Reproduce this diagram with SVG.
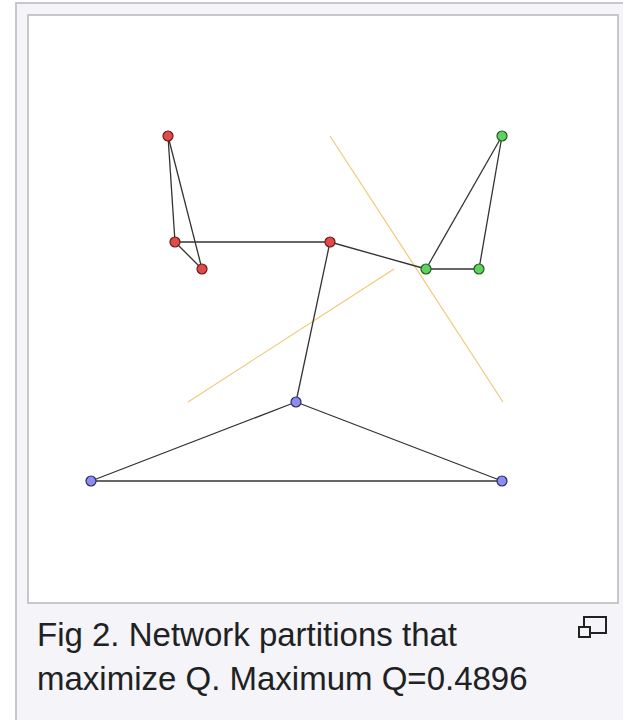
<svg xmlns="http://www.w3.org/2000/svg" width="623" height="720" viewBox="0 0 623 720">
<style>
.frame{fill:#f4f4f9;stroke:#c8c8cc;stroke-width:2}
.inner{fill:#ffffff;stroke:#c8c8cc;stroke-width:2}
.edge{stroke:#333;stroke-width:1.3;fill:none}
.cut{stroke:#f0c87a;stroke-width:1.2;fill:none}
.n{stroke-width:1.2}
.red{fill:#e04a4a;stroke:#6a1a1a}
.green{fill:#5fd25f;stroke:#1f5a1f}
.blue{fill:#8d8df0;stroke:#2a2a6a}
.cap{font-family:"Liberation Sans",Arial,sans-serif;font-size:33px;fill:#202122}
</style>
<rect class="frame" x="16" y="3" width="620" height="730"/>
<rect class="inner" x="28" y="15" width="590" height="588"/>
<g id="partition-lines">
<line class="cut" x1="330" y1="136" x2="503" y2="402"/>
<line class="cut" x1="188" y1="402" x2="394" y2="269"/>
</g>
<g id="connectors">
<line class="edge" x1="168" y1="136" x2="175" y2="242"/>
<line class="edge" x1="168" y1="136" x2="202" y2="269"/>
<line class="edge" x1="175" y1="242" x2="202" y2="269"/>
<line class="edge" x1="175" y1="242" x2="330" y2="242"/>
<line class="edge" x1="330" y1="242" x2="426" y2="269"/>
<line class="edge" x1="330" y1="242" x2="296" y2="402"/>
<line class="edge" x1="426" y1="269" x2="502" y2="136"/>
<line class="edge" x1="502" y1="136" x2="479" y2="269"/>
<line class="edge" x1="426" y1="269" x2="479" y2="269"/>
<line class="edge" x1="296" y1="402" x2="91" y2="481"/>
<line class="edge" x1="296" y1="402" x2="502" y2="481"/>
<line class="edge" x1="91" y1="481" x2="502" y2="481"/>
</g>
<g id="r1"><circle class="n red" cx="168" cy="136" r="5"/></g>
<g id="r2"><circle class="n red" cx="175" cy="242" r="5"/></g>
<g id="r3"><circle class="n red" cx="202" cy="269" r="5"/></g>
<g id="r4"><circle class="n red" cx="330" cy="242" r="5"/></g>
<g id="g1"><circle class="n green" cx="502" cy="136" r="5"/></g>
<g id="g2"><circle class="n green" cx="426" cy="269" r="5"/></g>
<g id="g3"><circle class="n green" cx="479" cy="269" r="5"/></g>
<g id="b1"><circle class="n blue" cx="296" cy="402" r="5"/></g>
<g id="b2"><circle class="n blue" cx="91" cy="481" r="5"/></g>
<g id="b3"><circle class="n blue" cx="502" cy="481" r="5"/></g>
<g id="enlarge-icon" fill="none" stroke="#222" stroke-width="2">
<rect x="584" y="617" width="22" height="16"/>
<rect x="579" y="627" width="11" height="10" fill="#f4f4f9"/>
</g>
<text class="cap" x="37" y="646">Fig 2. Network partitions that</text>
<text class="cap" x="37" y="690">maximize Q. Maximum Q=0.4896</text>
</svg>
